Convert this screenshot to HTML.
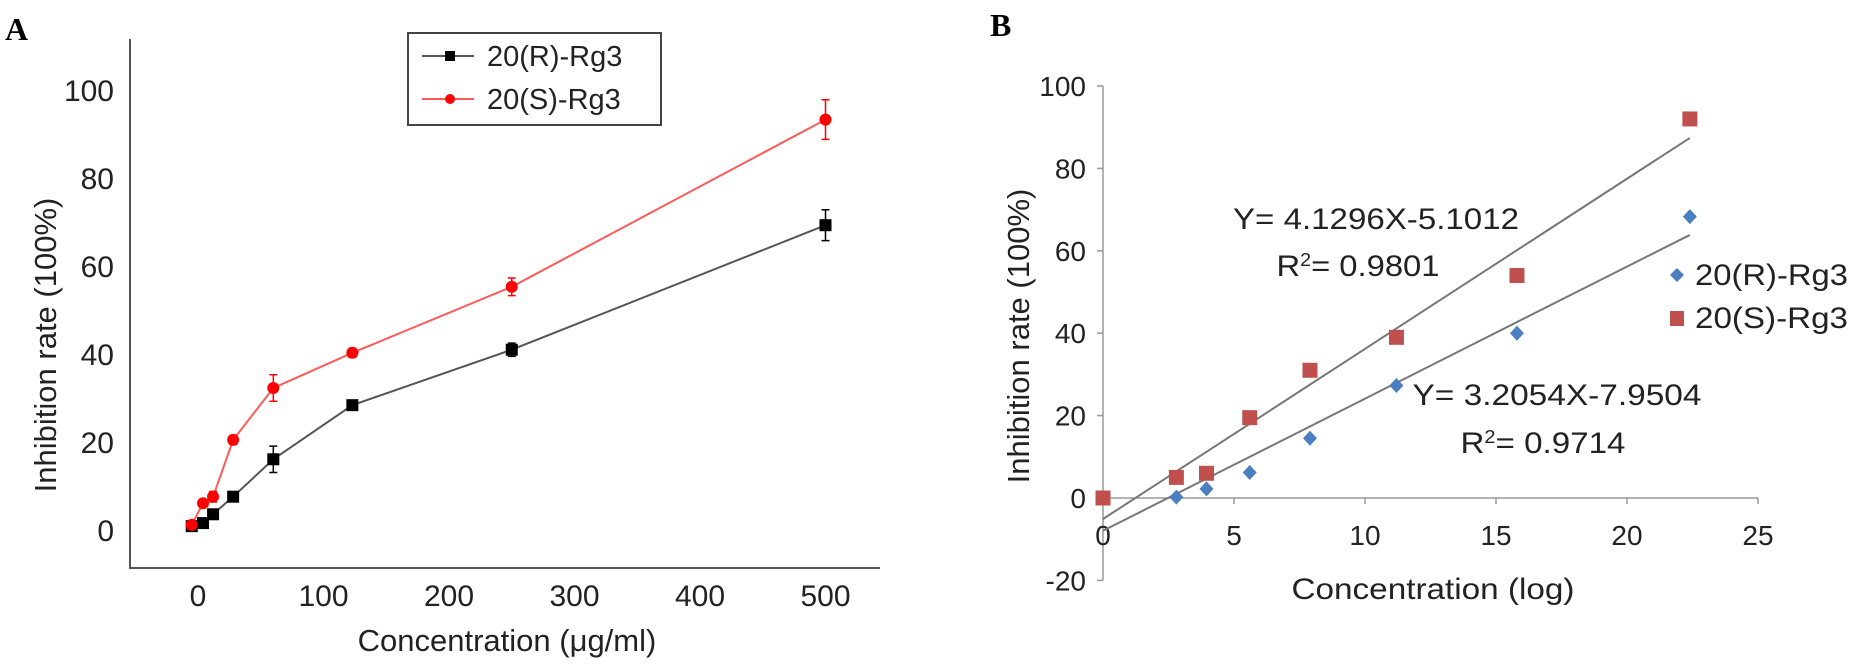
<!DOCTYPE html>
<html><head><meta charset="utf-8"><style>
html,body{margin:0;padding:0;background:#fff;}
svg{display:block;font-family:"Liberation Sans",Arial,sans-serif;}
</style></head><body>
<svg id="fig" width="1870" height="671" viewBox="0 0 1870 671" xmlns="http://www.w3.org/2000/svg">
<text x="5" y="40" font-family="Liberation Serif,serif" font-weight="bold" font-size="32">A</text>
<text x="990" y="36" font-family="Liberation Serif,serif" font-weight="bold" font-size="32">B</text>
<g id="pa"></g>
<g id="pb"></g>
</svg>
<script>
// Panel A data
const aConc = [-5, 4, 12, 28, 60, 123, 250, 500];
const aR = [1.1, 1.8, 3.8, 7.8, 16.3, 28.6, 41.2, 69.5];
const aRerr = [0.5, 0.5, 0.8, 1, 3, 1, 1.5, 3.5];
const aS = [1.4, 6.3, 7.8, 20.7, 32.5, 40.5, 55.5, 93.5];
const aSerr = [0.5, 0.8, 1.2, 1, 3, 1, 2, 4.5];
const aYTicks = [0, 20, 40, 60, 80, 100];
const aXTicks = [0, 100, 200, 300, 400, 500];
// Panel B data
const bXR = [2.8, 3.95, 5.6, 7.9, 11.2, 15.8, 22.4];
const bR = [0.2, 2.2, 6.2, 14.5, 27.3, 40, 68.3];
const bXS = [0, 2.8, 3.95, 5.6, 7.9, 11.2, 15.8, 22.4];
const bS = [0, 5, 6, 19.5, 31, 39, 54, 92];
const bYTicks = [-20, 0, 20, 40, 60, 80, 100];
const bXTicks = [0, 5, 10, 15, 20, 25];
const fitS = [4.1296, -5.1012];
const fitR = [3.2054, -7.9504];

const NS = "http://www.w3.org/2000/svg";
function mk(p, tag, at, txt){const e=document.createElementNS(NS,tag);for(const k in at)e.setAttribute(k,at[k]);if(txt!==undefined)e.textContent=txt;p.appendChild(e);return e;}

// ---------- Panel A ----------
const pa = document.getElementById('pa');
const ax = v => 198 + v*1.255;
const ay = v => 531 - v*4.4;
let e;
e = mk(pa,'line',{x1:130,y1:39,x2:130,y2:568,stroke:'#555','stroke-width':2});
 
e = mk(pa,'line',{x1:129,y1:568,x2:880,y2:568,stroke:'#555','stroke-width':2});
 
aYTicks.forEach(t=>{
  e = mk(pa,'text',{x:114,y:ay(t)+10,'text-anchor':'end','font-size':30,fill:'#222'},String(t));
   
});
aXTicks.forEach(t=>{
  e = mk(pa,'text',{x:ax(t),y:606,'text-anchor':'middle','font-size':30,fill:'#222'},String(t));
   
});
e = mk(pa,'text',{x:507,y:651,'text-anchor':'middle','font-size':31,fill:'#222'},'Concentration (μg/ml)');
 
e = mk(pa,'text',{x:0,y:0,'text-anchor':'middle','font-size':31,fill:'#222',transform:'translate(56,345) rotate(-90)'},'Inhibition rate (100%)');
 

function seriesA(vals, errs, col, lcol, shape, name){
  const pts = aConc.map((c,i)=>ax(c)+','+ay(vals[i])).join(' ');
  e = mk(pa,'polyline',{points:pts,fill:'none',stroke:lcol,'stroke-width':2});
   
  aConc.forEach((c,i)=>{
    const x=ax(c), y=ay(vals[i]), d=errs[i]*4.4;
    e = mk(pa,'path',{d:`M${x},${y-d}V${y+d}M${x-4},${y-d}H${x+4}M${x-4},${y+d}H${x+4}`,stroke:col,'stroke-width':1.5,fill:'none'});
     
    if(shape==='sq') e = mk(pa,'rect',{x:x-6,y:y-6,width:12,height:12,fill:col});
    else e = mk(pa,'circle',{cx:x,cy:y,r:6,fill:col});
     
  });
}
seriesA(aR, aRerr, '#000', '#555', 'sq', 'r-rg3');
seriesA(aS, aSerr, '#f00', '#ff5a5a', 'ci', 's-rg3');

const lg = mk(pa,'g',{});
 
mk(lg,'rect',{x:408,y:33,width:253,height:92,fill:'#fff',stroke:'#444','stroke-width':2});
mk(lg,'line',{x1:422,y1:56,x2:474,y2:56,stroke:'#555','stroke-width':2});
mk(lg,'rect',{x:445,y:51,width:10,height:10,fill:'#000'});
e = mk(lg,'text',{x:487,y:66,'font-size':29,fill:'#222'},'20(R)-Rg3');
 
mk(lg,'line',{x1:422,y1:99,x2:474,y2:99,stroke:'#ff5a5a','stroke-width':2});
mk(lg,'circle',{cx:450,cy:99,r:5,fill:'#f00'});
e = mk(lg,'text',{x:487,y:109,'font-size':29,fill:'#222'},'20(S)-Rg3');
 

// ---------- Panel B ----------
const pb = document.getElementById('pb');
const bx = v => 1103 + v*26.2;
const by = v => 498 - v*4.12;
e = mk(pb,'line',{x1:1103,y1:by(100),x2:1103,y2:by(-20),stroke:'#999','stroke-width':1.5});
 
e = mk(pb,'line',{x1:1103,y1:by(0),x2:bx(25),y2:by(0),stroke:'#999','stroke-width':1.5});
 
bYTicks.forEach(t=>{
  mk(pb,'line',{x1:1097,y1:by(t),x2:1103,y2:by(t),stroke:'#999','stroke-width':1.5});
  e = mk(pb,'text',{x:1086,y:by(t)+10,'text-anchor':'end','font-size':28,fill:'#222'},String(t));
   
});
bXTicks.forEach(t=>{
  mk(pb,'line',{x1:bx(t),y1:by(0),x2:bx(t),y2:by(0)+6,stroke:'#999','stroke-width':1.5});
  e = mk(pb,'text',{x:bx(t),y:545,'text-anchor':'middle','font-size':28,fill:'#222'},String(t));
   
});
e = mk(pb,'text',{x:1433,y:599,'text-anchor':'middle','font-size':30,fill:'#222',textLength:283,lengthAdjust:'spacingAndGlyphs'},'Concentration (log)');
 
e = mk(pb,'text',{x:0,y:0,'text-anchor':'middle','font-size':31,fill:'#222',transform:'translate(1029,336) rotate(-90)'},'Inhibition rate (100%)');
 

[[fitS,'trendline-s'],[fitR,'trendline-r']].forEach(([f,n])=>{
  e = mk(pb,'line',{x1:bx(0),y1:by(f[1]),x2:bx(22.4),y2:by(f[0]*22.4+f[1]),stroke:'#777','stroke-width':2});
   
});
bXR.forEach((c,i)=>{
  const x=bx(c), y=by(bR[i]);
  e = mk(pb,'path',{d:`M${x},${y-7.5}L${x+7},${y}L${x},${y+7.5}L${x-7},${y}Z`,fill:'#4a7fc1'});
   
});
bXS.forEach((c,i)=>{
  const x=bx(c), y=by(bS[i]);
  e = mk(pb,'rect',{x:x-7.5,y:y-7.5,width:15,height:15,fill:'#c0504d'});
   
});
function eq(x,y,t,n,len){e = mk(pb,'text',{x:x,y:y+11,'text-anchor':'middle','font-size':30,fill:'#222',textLength:len,lengthAdjust:'spacingAndGlyphs'});
  e.innerHTML=t;  }
eq(1376,218,'Y= 4.1296X-5.1012','equation-s',286);
eq(1358,265,'R<tspan font-size="18" dy="-10">2</tspan><tspan dy="10">= 0.9801</tspan>','r-squared-s',163);
eq(1557,394,'Y= 3.2054X-7.9504','equation-r',289);
eq(1543,442,'R<tspan font-size="18" dy="-10">2</tspan><tspan dy="10">= 0.9714</tspan>','r-squared-r',165);

const lb = mk(pb,'g',{});
 
mk(lb,'path',{d:'M1677,268L1684,275L1677,282L1670,275Z',fill:'#4a7fc1'});
e = mk(lb,'text',{x:1695,y:285,'font-size':30,fill:'#222',textLength:153,lengthAdjust:'spacingAndGlyphs'},'20(R)-Rg3');
 
mk(lb,'rect',{x:1670,y:311,width:14,height:15,fill:'#c0504d'});
e = mk(lb,'text',{x:1695,y:328,'font-size':30,fill:'#222',textLength:153,lengthAdjust:'spacingAndGlyphs'},'20(S)-Rg3');
 
</script>
</body></html>
